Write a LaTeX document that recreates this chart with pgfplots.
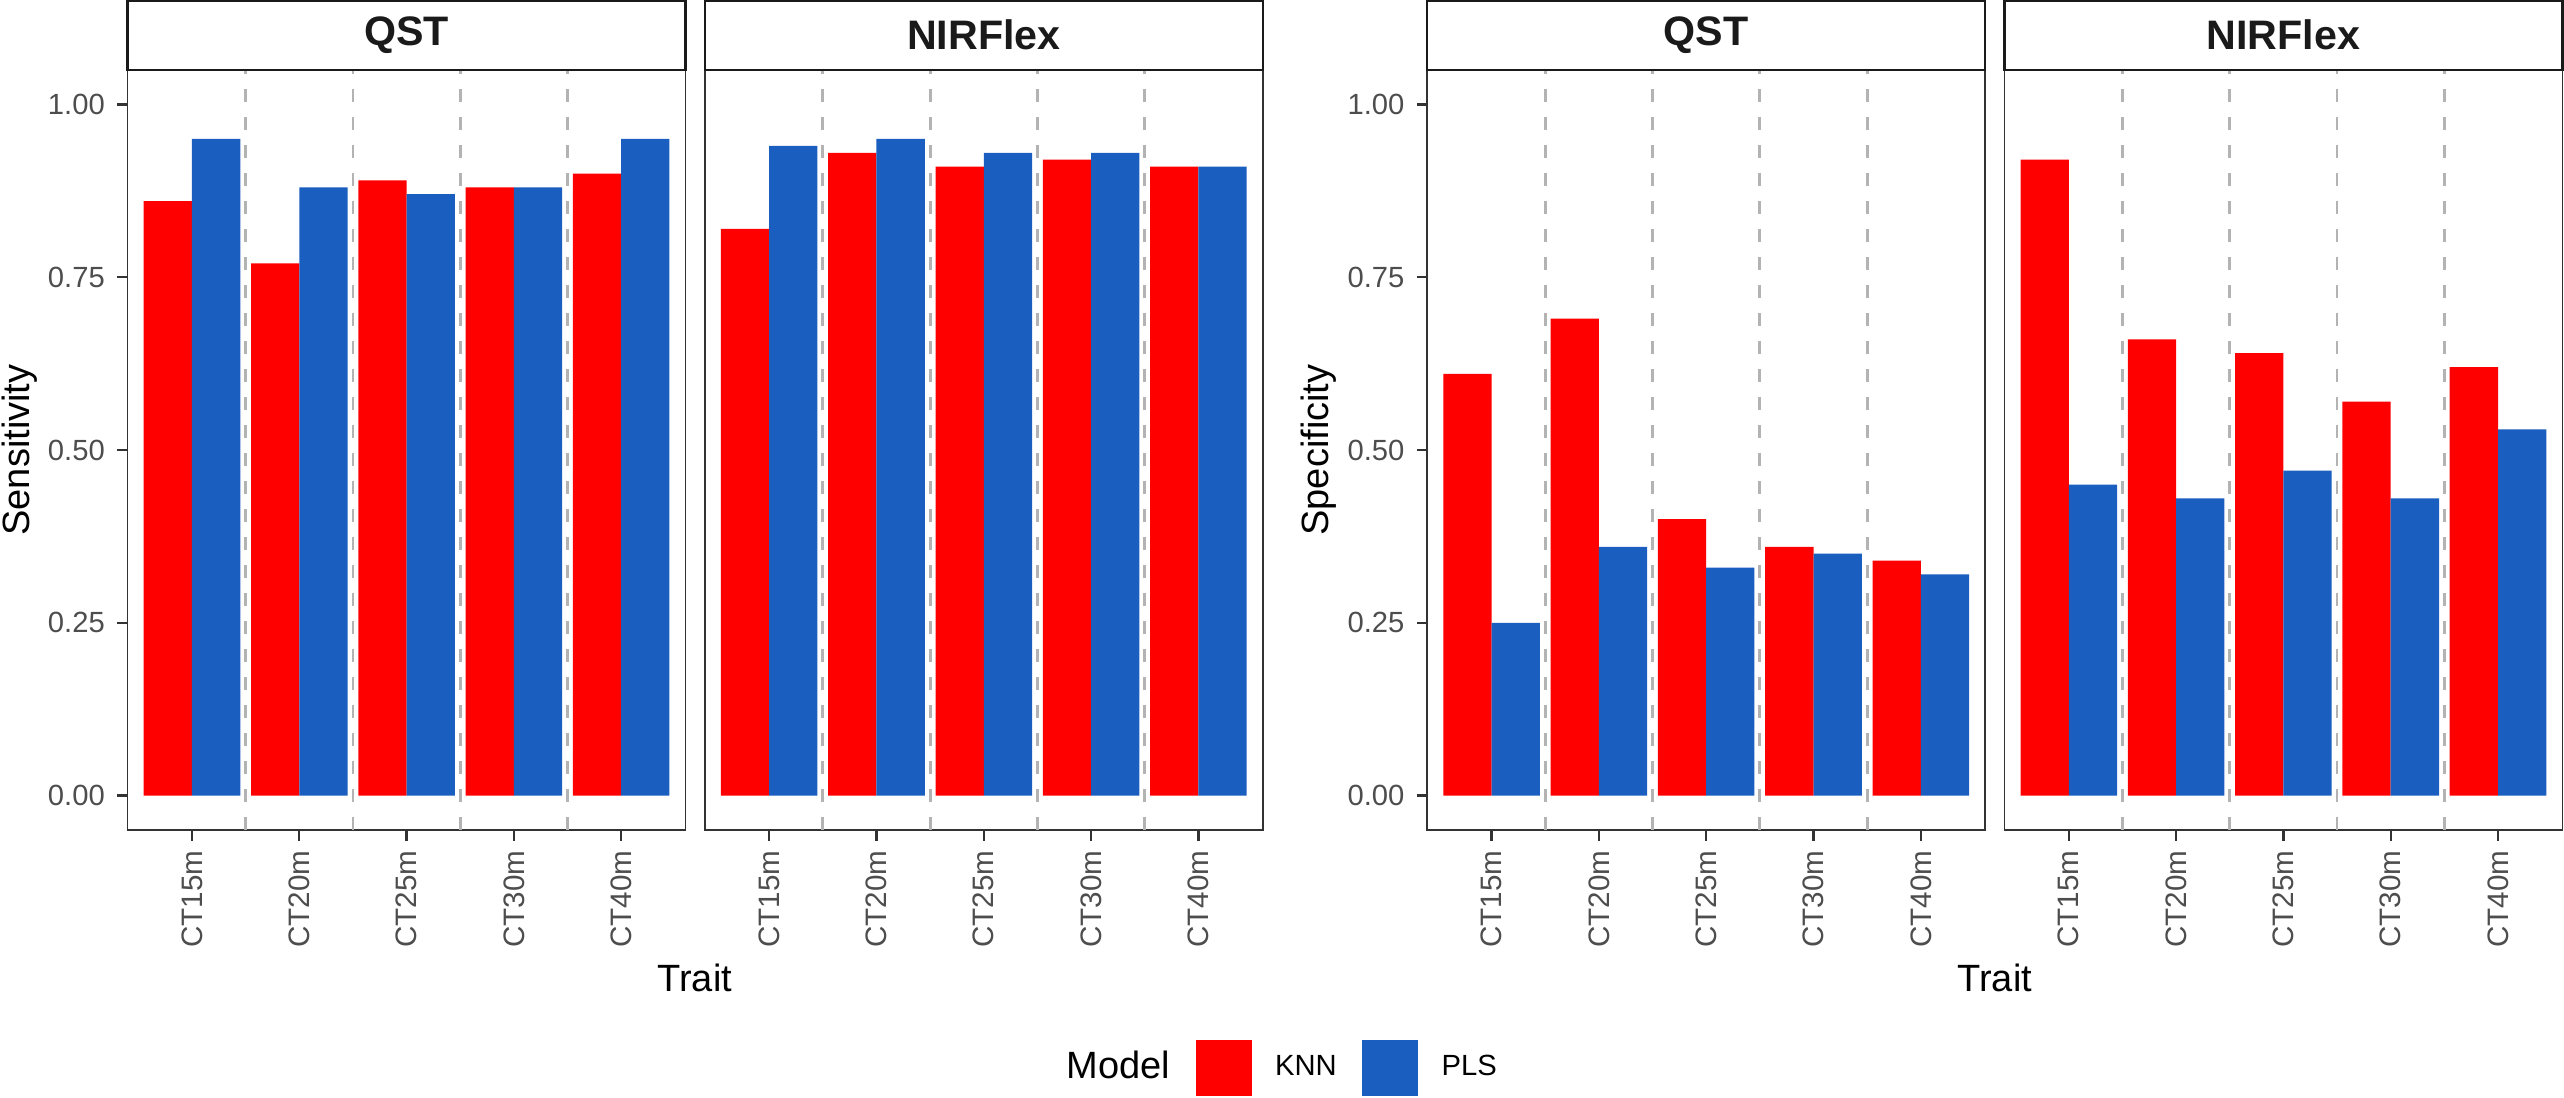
\documentclass[border=0pt]{standalone}
\usepackage{fontspec}
\setmainfont{Liberation Sans}
\usepackage{pgfplots}
\pgfplotsset{compat=1.18}
\usepackage{pgfplotstable}

\definecolor{knn}{HTML}{FF0000}
\definecolor{pls}{HTML}{1A5EC0}
\definecolor{gray20}{HTML}{333333}
\definecolor{gray30}{HTML}{4D4D4D}
\definecolor{gray10}{HTML}{1A1A1A}
\definecolor{dashgray}{HTML}{B3B3B3}

% Sensitivity
\pgfplotstableread{
x knn pls
1 0.86 0.95
2 0.77 0.88
3 0.89 0.87
4 0.88 0.88
5 0.90 0.95
}\senqst
\pgfplotstableread{
x knn pls
1 0.82 0.94
2 0.93 0.95
3 0.91 0.93
4 0.92 0.93
5 0.91 0.91
}\sennir
% Specificity
\pgfplotstableread{
x knn pls
1 0.61 0.25
2 0.69 0.36
3 0.40 0.33
4 0.36 0.35
5 0.34 0.32
}\speqst
\pgfplotstableread{
x knn pls
1 0.92 0.45
2 0.66 0.43
3 0.64 0.47
4 0.57 0.43
5 0.62 0.53
}\spenir

\pgfplotsset{
  panel/.style={
    scale only axis, width=139.5pt, height=190.1pt,
    anchor=south west,
    xmin=0.4, xmax=5.6, ymin=-0.05, ymax=1.05,
    clip=false,
    axis line style={draw=gray20, line width=0.45pt},
    xtick={1,2,3,4,5}, xticklabels={CT15m,CT20m,CT25m,CT30m,CT40m},
    ytick={0,0.25,0.5,0.75,1}, yticklabels={0.00,0.25,0.50,0.75,1.00},
    tick align=outside, major tick length=2.6pt,
    tick style={draw=gray20, line width=0.6pt},
    xtick pos=left, ytick pos=left,
    x tick label style={rotate=90, anchor=east, font=\fontsize{7.4}{8}\selectfont, text=gray30, inner sep=0pt, xshift=-2.3pt},
    y tick label style={font=\fontsize{7.3}{8}\selectfont, text=gray30, inner sep=0pt, xshift=-2.9pt},
    extra x ticks={1.5,2.5,3.5,4.5}, extra x tick labels={,,,},
    extra x tick style={grid=major, major tick length=0pt,
      major grid style={draw=dashgray, line width=0.7pt, dash pattern=on 3.3pt off 3.7pt}},
    every axis title shift=0pt,
    title style={at={(rel axis cs:0.5,1)}, anchor=south, draw=gray10, line width=0.55pt,
      minimum width=139.5pt, minimum height=17.3pt, inner sep=0pt, outer sep=0pt, yshift=0pt,
      font=\bfseries\fontsize{10.3}{12}\selectfont, text=gray10},
    ylabel style={at={(axis description cs:-0.194,0.5)}, rotate=0, anchor=center,
      font=\fontsize{9.5}{11}\selectfont, text=black},
    ybar, bar width=0.45,
  },
  noy/.style={ytick=\empty},
}

\begin{document}
\begin{tikzpicture}
% ---- Sensitivity / QST
\begin{axis}[panel, at={(31.9pt,66.7pt)}, title={QST}, ylabel={Sensitivity},
  legend style={draw=none, fill=none, inner sep=0pt, outer sep=0pt,
    at={(axis description cs:1.6416,-0.3127)}, anchor=west,
    /tikz/every odd column/.append style={column sep=5.8pt},
    /tikz/every even column/.append style={column sep=6.4pt},
    nodes={inner sep=0pt, text=black}, font=\fontsize{7.3}{8}\selectfont},
  legend columns=-1]
\addlegendimage{empty legend}
\addlegendentry{\fontsize{9.5}{11}\selectfont Model}
\addplot[fill=knn, draw=none, bar shift=-0.225,
  legend image code/.code={\fill[knn] (0pt,-7pt) rectangle (14pt,7pt);}]
  table[x=x,y=knn]{\senqst};
\addlegendentry{KNN}
\addplot[fill=pls, draw=none, bar shift=0.225,
  legend image code/.code={\fill[pls] (0pt,-7pt) rectangle (14pt,7pt);}]
  table[x=x,y=pls]{\senqst};
\addlegendentry{PLS}
\end{axis}
% ---- Sensitivity / NIRFlex
\begin{axis}[panel, noy, at={(176.2pt,66.7pt)}, title={NIRFlex}]
\addplot[fill=knn, draw=none, bar shift=-0.225] table[x=x,y=knn]{\sennir};
\addplot[fill=pls, draw=none, bar shift=0.225] table[x=x,y=pls]{\sennir};
\end{axis}
% ---- Specificity / QST
\begin{axis}[panel, at={(356.8pt,66.7pt)}, title={QST}, ylabel={Specificity}]
\addplot[fill=knn, draw=none, bar shift=-0.225] table[x=x,y=knn]{\speqst};
\addplot[fill=pls, draw=none, bar shift=0.225] table[x=x,y=pls]{\speqst};
\end{axis}
% ---- Specificity / NIRFlex
\begin{axis}[panel, noy, at={(501.1pt,66.7pt)}, title={NIRFlex}]
\addplot[fill=knn, draw=none, bar shift=-0.225] table[x=x,y=knn]{\spenir};
\addplot[fill=pls, draw=none, bar shift=0.225] table[x=x,y=pls]{\spenir};
\end{axis}
% x titles
\node[anchor=base, font=\fontsize{9.5}{11}\selectfont] at (173.7pt,26.5pt) {Trait};
\node[anchor=base, font=\fontsize{9.5}{11}\selectfont] at (498.7pt,26.5pt) {Trait};
\pgfresetboundingbox
\path[use as bounding box] (0,0) rectangle (641pt,274.25pt);
\end{tikzpicture}
\end{document}
